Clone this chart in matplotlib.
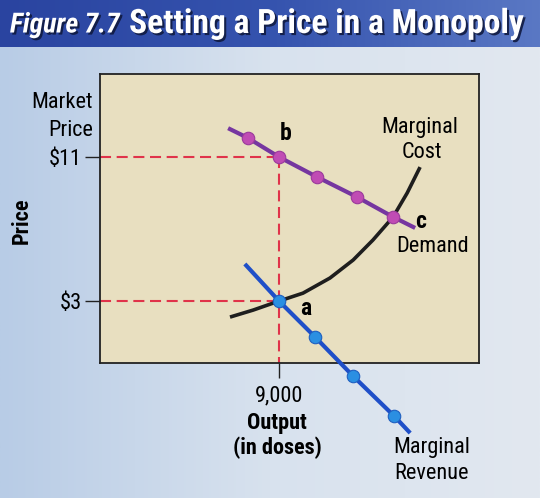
import numpy as np
import matplotlib
matplotlib.use("Agg")
import matplotlib.pyplot as plt
import matplotlib.patheffects as pe

plt.rcParams['font.family'] = ['Roboto Condensed', 'Roboto', 'DejaVu Sans']

# values (output in doses, price in $)
demand_q = [7660, 8180, 9000, 10000, 11050, 12000, 12580]
demand_p = [12.6, 12.06, 11.0, 9.89, 8.78, 7.67, 7.06]
demand_dots = [1, 2, 3, 4, 5]

mr_q = [8100, 9000, 9950, 10950, 12030, 12450]
mr_p = [5.06, 3.0, 1.0, -1.17, -3.39, -4.33]
mr_dots = [1, 2, 3, 4]

mc_q = [7710, 8320, 9000, 9630, 10340, 10950, 11470, 12000, 12370, 12710]
mc_p = [2.11, 2.5, 3.0, 3.44, 4.28, 5.28, 6.39, 7.67, 9.0, 10.44]

price_ticks = [3, 11]
price_labels = ['$3', '$11']
output_ticks = [9000]
output_labels = ['9,000']

W, H = 540, 498
fig = plt.figure(figsize=(W / 100, H / 100), dpi=100)

# background of the page
bg = fig.add_axes([0, 0, 1, 1], zorder=-10)
grad = np.linspace(0, 1, 256).reshape(1, -1)
bg.imshow(grad, aspect='auto', extent=[0, 1, 0, 1],
          cmap=matplotlib.colors.LinearSegmentedColormap.from_list('pg', ['#b8cce6', '#d8e2ee', '#e2e8f0']))
# title banner
bg.imshow(grad, aspect='auto', extent=[0, 1, 1 - 47 / H, 1],
          cmap=matplotlib.colors.LinearSegmentedColormap.from_list('bn', ['#2a44a0', '#3553ae', '#5a78c4']))
bg.set_xlim(0, 1)
bg.set_ylim(0, 1)
bg.axis('off')

shadow = [pe.withSimplePatchShadow(offset=(1.5, -1.5), shadow_rgbFace='#101a40', alpha=0.9)]
fig.text(10 / W, 1 - 25 / H, 'Figure 7.7', color='white', fontsize=20, style='italic',
         fontweight='bold', va='center', ha='left', path_effects=shadow)
fig.text(129 / W, 1 - 24 / H, 'Setting a Price in a Monopoly', color='white', fontsize=24.2,
         fontweight='bold', va='center', ha='left', path_effects=shadow)

ax = fig.add_axes([100 / W, 1 - 363 / H, 379 / W, 289 / H])
ax.set_facecolor('#e8dfc0')
ax.set_xlim(4290, 14260)
ax.set_ylim(-0.44, 15.61)
for s in ax.spines.values():
    s.set_color('#222222')
    s.set_linewidth(1.3)

ax.set_yticks(price_ticks)
ax.set_yticklabels(price_labels, fontsize=16)
ax.set_xticks(output_ticks)
ax.set_xticklabels(output_labels, fontsize=16)
ax.tick_params(axis='y', direction='out', length=11, width=1, color='#222222', pad=2)
ax.tick_params(axis='x', direction='out', length=11, width=1, color='#222222', pad=5)

red = '#e0334a'
ax.plot([ax.get_xlim()[0], 9000], [11, 11], color=red, lw=1.5, dashes=(5.3, 2.7), zorder=2)
ax.plot([ax.get_xlim()[0], 9000], [3, 3], color=red, lw=1.5, dashes=(5.3, 2.7), zorder=2)
ax.plot([9000, 9000], [11, ax.get_ylim()[0]], color=red, lw=1.5, dashes=(5.3, 2.7), zorder=2)

ax.plot(mc_q, mc_p, color='#1e1e1e', lw=2.6, solid_capstyle='butt', solid_joinstyle='round', zorder=3)

ax.plot(demand_q, demand_p, color='#7636a0', lw=3, solid_capstyle='butt', zorder=4)
ax.plot([demand_q[i] for i in demand_dots], [demand_p[i] for i in demand_dots], 'o',
        ms=9, color='#c04cb4', mec='#9a3a9c', mew=0.8, zorder=5)

ax.plot(mr_q, mr_p, color='#1f4fc8', lw=3, solid_capstyle='butt', zorder=4, clip_on=False)
ax.plot([mr_q[i] for i in mr_dots], [mr_p[i] for i in mr_dots], 'o',
        ms=9, color='#2b8fe2', mec='#1f5fc0', mew=0.8, zorder=5, clip_on=False)

# point labels
ax.text(9170, 12.3, 'b', fontsize=17, fontweight='bold', ha='center', va='center')
ax.text(12710, 7.4, 'c', fontsize=17, fontweight='bold', ha='center', va='center')
ax.text(9700, 2.6, 'a', fontsize=17, fontweight='bold', ha='center', va='center')

# curve and axis labels
fig.text(93 / W, 1 - 103 / H, 'Market', fontsize=16, ha='right', va='center')
fig.text(93 / W, 1 - 131 / H, 'Price', fontsize=16, ha='right', va='center')
fig.text(22 / W, 1 - 221 / H, 'Price', fontsize=16, fontweight='bold', rotation=90,
         ha='center', va='center')
fig.text(420 / W, 1 - 127 / H, 'Marginal', fontsize=16, ha='center', va='center')
fig.text(422 / W, 1 - 152 / H, 'Cost', fontsize=16, ha='center', va='center')
fig.text(433 / W, 1 - 246 / H, 'Demand', fontsize=16, ha='center', va='center')
fig.text(277 / W, 1 - 423 / H, 'Output', fontsize=16, fontweight='bold', ha='center', va='center')
fig.text(277 / W, 1 - 448 / H, '(in doses)', fontsize=16, fontweight='bold', ha='center', va='center')
fig.text(432 / W, 1 - 447 / H, 'Marginal', fontsize=16, ha='center', va='center')
fig.text(432 / W, 1 - 473 / H, 'Revenue', fontsize=16, ha='center', va='center')

fig.savefig('out.png', dpi=100)
